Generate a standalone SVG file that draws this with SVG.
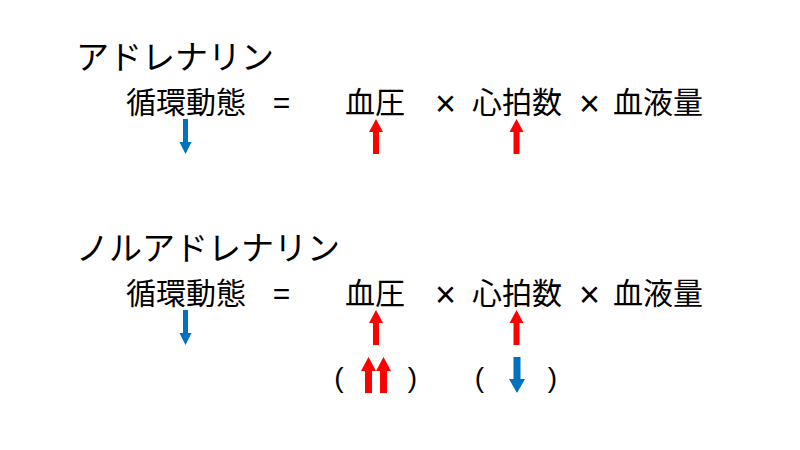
<svg xmlns="http://www.w3.org/2000/svg" xmlns:xlink="http://www.w3.org/1999/xlink" width="800" height="450" viewBox="0 0 800 450">
<style>
.jp{font-family:"Noto Sans CJK JP","Noto Sans",sans-serif;fill:#000}
.ttl{font-size:33px}
.eq{font-size:30px}
.op{font-family:"Liberation Sans",Arial,sans-serif;font-size:30px;fill:#000}
.x{font-family:"Liberation Sans",Arial,sans-serif;font-size:36px;fill:#000}
.par{font-family:"Liberation Sans",Arial,sans-serif;font-size:28px;fill:#000}
.red{fill:#FF0000}
.blue{fill:#0070C0}
</style>
<defs>
<path id="up" d="M0,0 L7,13 L3,13 L3,35 L-3,35 L-3,13 L-7,13 Z"/>
<path id="down" d="M0,35 L6,23 L2.5,23 L2.5,0 L-2.5,0 L-2.5,23 L-6,23 Z"/>
<path id="upL" d="M0,0 L7.5,14 L3.5,14 L3.5,36 L-3.5,36 L-3.5,14 L-7.5,14 Z"/>
<path id="downL" d="M0,36 L8,22 L3.5,22 L3.5,0 L-3.5,0 L-3.5,22 L-8,22 Z"/>
</defs>
<rect width="800" height="450" fill="#fff"/>

<g id="adrenaline">
<text class="jp ttl" x="76" y="69">アドレナリン</text>
<g id="formula1">
<text class="jp eq" x="126" y="113">循環動態</text>
<text class="op" x="281.5" y="113" text-anchor="middle">=</text>
<text class="jp eq" x="345" y="113">血圧</text>
<text class="x" x="445.5" y="116" text-anchor="middle">×</text>
<text class="jp eq" x="472" y="113">心拍数</text>
<text class="x" x="589.5" y="116" text-anchor="middle">×</text>
<text class="jp eq" x="613" y="113">血液量</text>
</g>
</g>

<g id="noradrenaline">
<text class="jp ttl" x="76" y="260">ノルアドレナリン</text>
<g id="formula2">
<text class="jp eq" x="126" y="304">循環動態</text>
<text class="op" x="281.5" y="304" text-anchor="middle">=</text>
<text class="jp eq" x="345" y="304">血圧</text>
<text class="x" x="445.5" y="307" text-anchor="middle">×</text>
<text class="jp eq" x="472" y="304">心拍数</text>
<text class="x" x="589.5" y="307" text-anchor="middle">×</text>
<text class="jp eq" x="613" y="304">血液量</text>
</g>
<g id="parens">
<text class="par" x="339" y="387" text-anchor="middle">(</text>
<text class="par" x="412.5" y="387" text-anchor="middle">)</text>
<text class="par" x="479.5" y="387" text-anchor="middle">(</text>
<text class="par" x="552.5" y="387" text-anchor="middle">)</text>
</g>
</g>

<g id="connectors">
<use xlink:href="#down" class="blue" transform="translate(185.5,119)"/>
<use xlink:href="#up" class="red" transform="translate(376,119)"/>
<use xlink:href="#up" class="red" transform="translate(516.5,119)"/>
<use xlink:href="#down" class="blue" transform="translate(185.5,310)"/>
<use xlink:href="#up" class="red" transform="translate(376,310)"/>
<use xlink:href="#up" class="red" transform="translate(516.5,310)"/>
<use xlink:href="#upL" class="red" transform="translate(368.5,357)"/>
<use xlink:href="#upL" class="red" transform="translate(383.5,357)"/>
<use xlink:href="#downL" class="blue" transform="translate(517,357)"/>
</g>
</svg>
